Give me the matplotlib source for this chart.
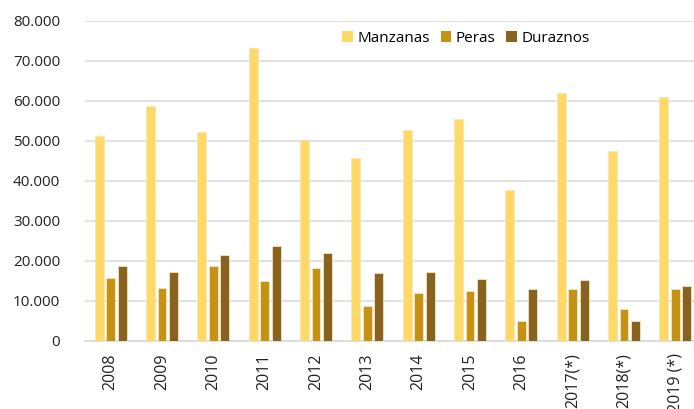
import matplotlib
matplotlib.use("Agg")
import matplotlib.pyplot as plt
import numpy as np
from matplotlib.patches import Patch

categories = ["2008", "2009", "2010", "2011", "2012", "2013", "2014", "2015",
              "2016", "2017(*)", "2018(*)", "2019 (*)"]
manzanas = [51200, 58700, 52100, 73200, 50100, 45600, 52600, 55400, 37600, 61800, 47500, 60800]
peras = [15800, 13200, 18600, 14900, 18200, 8700, 12000, 12500, 4900, 13000, 8100, 13100]
duraznos = [18600, 17300, 21400, 23800, 21900, 17000, 17200, 15400, 12900, 15200, 4900, 13700]
series_names = ["Manzanas", "Peras", "Duraznos"]
colors = ["#FFD966", "#C69214", "#88621E"]
yticks = [0, 10000, 20000, 30000, 40000, 50000, 60000, 70000, 80000]

plt.rcParams['font.family'] = ['Open Sans', 'DejaVu Sans']

fig = plt.figure(figsize=(6.94, 4.09), dpi=100)
ax = fig.add_axes([85/694, (409-341)/409, 616/694, (341-20.5)/409])

x = np.arange(len(categories))
w = 0.175
step = 0.222
for i, (vals, c) in enumerate(zip([manzanas, peras, duraznos], colors)):
    ax.bar(x + (i - 1) * step, vals, width=w, color=c, edgecolor="#F3E6C0", linewidth=0.6, zorder=3)

ax.set_xlim(-0.5, len(categories) - 0.5)
ax.set_ylim(0, 80000)
ax.set_yticks(yticks)
ax.set_yticklabels([f"{v:,}".replace(",", ".") for v in yticks], fontsize=11, color="#222222")
ax.set_xticks(x)
ax.set_xticklabels(categories, rotation=90, fontsize=11.5, color="#222222", va="top")
ax.tick_params(axis="both", length=0)
ax.tick_params(axis="x", pad=9)
ax.tick_params(axis="y", pad=18)
ax.grid(axis="y", color="#DDDDDD", linewidth=1.2, zorder=0)
for s in ["top", "right", "left"]:
    ax.spines[s].set_visible(False)
ax.spines["bottom"].set_color("#D9D9D9")
ax.spines["bottom"].set_linewidth(1.2)

handles = [Patch(facecolor=c, label=n) for c, n in zip(colors, series_names)]
leg = ax.legend(handles=handles, ncol=3, loc="center left", bbox_to_anchor=(0.405, 0.945),
                frameon=False, fontsize=11, handlelength=0.7, handleheight=0.7,
                handletextpad=0.3, columnspacing=0.7, borderpad=0)

fig.savefig("out.png", dpi=100)
